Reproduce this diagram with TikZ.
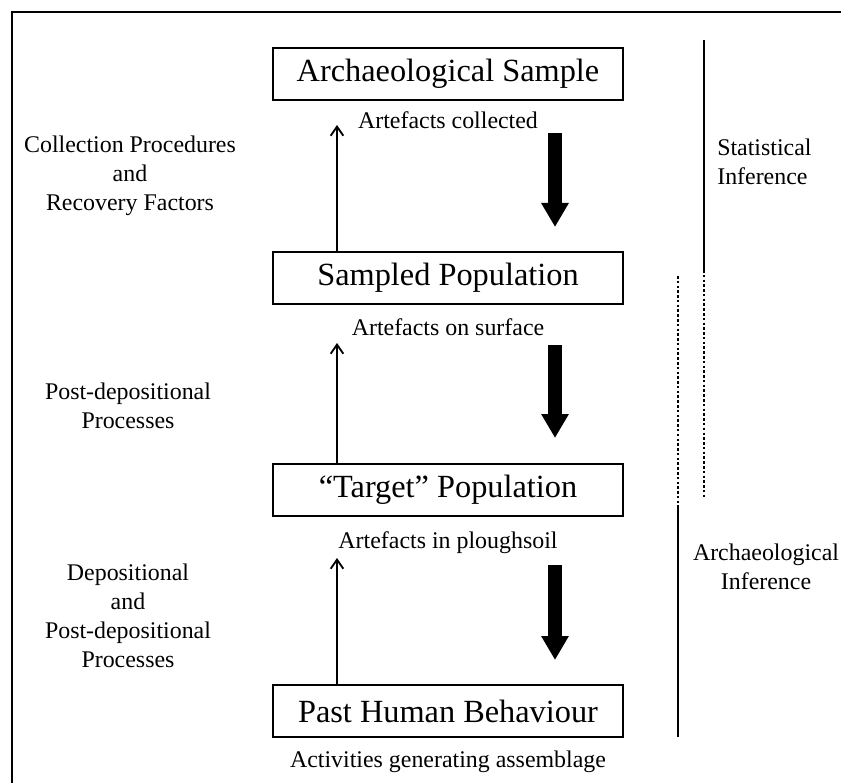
\documentclass[tikz,border=0pt]{standalone}
\usepackage{fontspec}
\setmainfont{Liberation Serif}
\usetikzlibrary{arrows.meta, positioning}

\begin{document}
\begin{tikzpicture}[
    stageBox/.style={draw, line width=0.9pt, minimum width=8.75cm, minimum height=1.3cm, inner sep=0pt, font=\fontsize{23}{27}\selectfont},
    noteText/.style={font=\fontsize{17}{20.6}\selectfont, align=center, inner sep=0pt},
    sideText/.style={font=\fontsize{17}{20.6}\selectfont, inner sep=0pt},
    upRel/.style={-{Straight Barb[length=6.5pt, width=9pt, line width=1.3pt]}, line width=1.2pt},
    flowRel/.style={-{Triangle[width=0.65cm, length=0.6cm]}, line width=0.35cm},
    solidBar/.style={line width=1.1pt},
    dotBar/.style={line width=2pt, dash pattern=on 1.8pt off 1.6pt}
]
    % Frame
    \useasboundingbox (0,0) rectangle (21.025,-19.55);
    \draw[line width=1.5pt] (0.3,-19.7) |- (21.2,-0.3);

    % Stage boxes
    \node[stageBox] (sample)  at (11.2,-1.85)   {Archaeological Sample};
    \node[stageBox] (sampled) at (11.2,-6.95)   {Sampled Population};
    \node[stageBox] (target)  at (11.2,-12.25)  {“Target” Population};
    \node[stageBox] (past)    at (11.2,-17.775) {Past Human Behaviour};

    % Artefact notes
    \node[noteText] (collected) at (11.2,-3.0)    {Artefacts collected};
    \node[noteText] (surface)   at (11.2,-8.175)  {Artefacts on surface};
    \node[noteText] (plough)    at (11.2,-13.575) {Artefacts in ploughsoil};
    \node[noteText] (activity)  at (11.2,-19.05)  {Activities generating assemblage};

    % Processes (left)
    \node[noteText] (recovery) at (3.25,-4.4)  {Collection Procedures\\and\\Recovery Factors};
    \node[noteText] (postdep)  at (3.2,-10.15) {Post-depositional\\Processes};
    \node[noteText] (dep)      at (3.2,-15.4)  {Depositional\\and\\Post-depositional\\Processes};

    % Thin arrows (formation)
    \coordinate (tipA) at (8.425,-3.125);
    \coordinate (tipB) at (8.425,-8.575);
    \coordinate (tipC) at (8.425,-13.95);
    \draw[upRel] (sampled.north -| tipA) -- (tipA);
    \draw[upRel] (target.north -| tipB)  -- (tipB);
    \draw[upRel] (past.north -| tipC)    -- (tipC);

    % Thick arrows (inference)
    \coordinate (flowTopA) at (13.875,-3.325);
    \coordinate (flowEndA) at (13.875,-5.675);
    \coordinate (flowTopB) at (13.875,-8.625);
    \coordinate (flowEndB) at (13.875,-10.95);
    \coordinate (flowTopC) at (13.875,-14.125);
    \coordinate (flowEndC) at (13.875,-16.5);
    \draw[flowRel] (flowTopA) -- (flowEndA);
    \draw[flowRel] (flowTopB) -- (flowEndB);
    \draw[flowRel] (flowTopC) -- (flowEndC);

    % Inference bars (right)
    \draw[solidBar] (17.6,-1.0)    -- (17.6,-6.75);
    \draw[dotBar]   (17.6,-6.75)   -- (17.6,-12.45);
    \draw[dotBar]   (16.95,-6.9)   -- (16.95,-12.675);
    \draw[solidBar] (16.95,-12.675) -- (16.95,-18.425);

    \node[sideText, anchor=west, align=left] (stat) at (17.925,-4.05)  {Statistical\\Inference};
    \node[sideText, align=center]            (arch) at (19.15,-14.175) {Archaeological\\Inference};
\end{tikzpicture}
\end{document}
